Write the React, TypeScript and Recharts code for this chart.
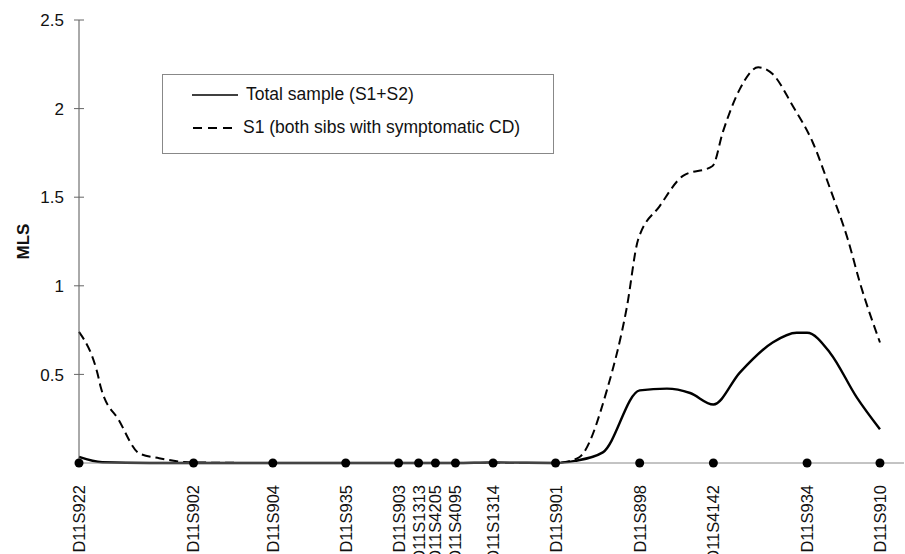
import { ComposedChart, Line, Scatter, XAxis, YAxis } from 'recharts'

// marker positions along the chromosome (relative units, D11S922 = 0, D11S910 = 100)
const markerNames = [
  'D11S922', 'D11S902', 'D11S904', 'D11S935', 'D11S903', 'D11S1313', 'D11S4205',
  'D11S4095', 'D11S1314', 'D11S901', 'D11S898', 'D11S4142', 'D11S934', 'D11S910',
]
const markerPos = [0, 14.3, 24.2, 33.3, 39.9, 42.4, 44.5, 47.0, 51.7, 59.5, 70.0, 79.2, 90.9, 100]

// Total sample (S1+S2)
const totalPos = [0, 2.9, 8.8, 14.3, 24.2, 33.3, 39.9, 47.0, 51.7, 59.5, 61.9, 65.4, 70.0, 73.4, 76.3, 79.2, 82.5, 86.6, 89.6, 90.9, 93.8, 97.1, 100]
const totalMls = [0.034, 0.004, 0, 0, 0, 0, 0, 0, 0.003, 0, 0.012, 0.06, 0.41, 0.42, 0.395, 0.33, 0.51, 0.68, 0.735, 0.735, 0.62, 0.37, 0.19]

// S1 (both sibs with symptomatic CD)
const s1Pos = [0, 2.5, 2.7, 5.0, 7.5, 10.0, 14.3, 24.2, 33.3, 47.0, 59.5, 60.6, 62.5, 65.9, 68.4, 69.8, 72.5, 75.4, 79.1, 80.4, 82.5, 84.8, 86.6, 89.1, 91.6, 93.8, 96.0, 97.5, 100]
const s1Mls = [0.74, 0.47, 0.43, 0.24, 0.055, 0.027, 0.003, 0, 0, 0, 0, 0.005, 0.034, 0.41, 0.88, 1.26, 1.45, 1.62, 1.676, 1.87, 2.11, 2.233, 2.195, 2.016, 1.81, 1.545, 1.26, 1.017, 0.68]

const yTicks = [0.5, 1, 1.5, 2, 2.5]

const totalData = totalPos.map((x, i) => ({ x, y: totalMls[i] }))
const s1Data = s1Pos.map((x, i) => ({ x, y: s1Mls[i] }))
const markerData = markerPos.map((x) => ({ x, y: 0 }))

const FONT = 'Arial, "Liberation Sans", sans-serif'

function XTick(props: any) {
  const { x, y, index } = props
  return (
    <g transform={`translate(${x},${y})`}>
      <text transform="rotate(-90)" x={-14} y={0} dy="0.36em" textAnchor="end" fontSize={16.5} fill="#111" fontFamily={FONT}>
        {markerNames[index]}
      </text>
    </g>
  )
}

function YTick(props: any) {
  const { x, y, payload } = props
  return (
    <g>
      <line x1={x - 5} x2={x + 5} y1={y} y2={y} stroke="#666" />
      <text x={x - 15} y={y} dy="0.36em" textAnchor="end" fontSize={17} fill="#111" fontFamily={FONT}>
        {payload.value}
      </text>
    </g>
  )
}

function LegendBox() {
  return (
    <div style={{ position: 'absolute', left: 162, top: 74, width: 392, height: 80, border: '1px solid #888', boxSizing: 'border-box', fontFamily: FONT, fontSize: 17.5, color: '#111' }}>
      <svg width={80} height={78} style={{ position: 'absolute', left: 0, top: 0 }}>
        <line x1={29} x2={75} y1={20} y2={20} stroke="#000" strokeWidth={1.5} />
        <line x1={30} x2={72} y1={53} y2={53} stroke="#000" strokeWidth={2} strokeDasharray="9 6" />
      </svg>
      <div style={{ position: 'absolute', left: 83, top: 9, whiteSpace: 'nowrap' }}>Total sample (S1+S2)</div>
      <div style={{ position: 'absolute', left: 80, top: 42, whiteSpace: 'nowrap' }}>S1 (both sibs with symptomatic CD)</div>
    </div>
  )
}

export default function App() {
  return (
    <div style={{ position: 'absolute', left: 0, top: 0, width: 905, height: 554, background: '#fff' }}>
      <ComposedChart width={905} height={554} margin={{ top: 20, right: 1, bottom: 0, left: 0 }}>
        <XAxis
          type="number"
          dataKey="x"
          domain={[0, 103]}
          ticks={markerPos}
          interval={0}
          tick={<XTick />}
          tickLine={false}
          axisLine={{ stroke: '#888' }}
          height={91}
        />
        <YAxis
          type="number"
          dataKey="y"
          domain={[0, 2.5]}
          ticks={yTicks}
          interval={0}
          tick={<YTick />}
          tickLine={false}
          tickSize={0}
          tickMargin={0}
          axisLine={{ stroke: '#555' }}
          width={79}
          label={{ value: 'MLS', angle: -90, position: 'insideLeft', dx: 18, style: { fontSize: 17, fontWeight: 'bold', fill: '#111', fontFamily: FONT, textAnchor: 'middle' } }}
        />
        <Line data={s1Data} dataKey="y" type="monotone" stroke="#000" strokeWidth={2} strokeDasharray="9 5" dot={false} isAnimationActive={false} />
        <Line data={totalData} dataKey="y" type="monotone" stroke="#000" strokeWidth={2.4} dot={false} isAnimationActive={false} />
        <Scatter data={markerData} dataKey="y" fill="#000" shape={(p: any) => <circle cx={p.cx} cy={p.cy} r={4.5} fill="#000" />} isAnimationActive={false} />
      </ComposedChart>
      <LegendBox />
    </div>
  )
}
